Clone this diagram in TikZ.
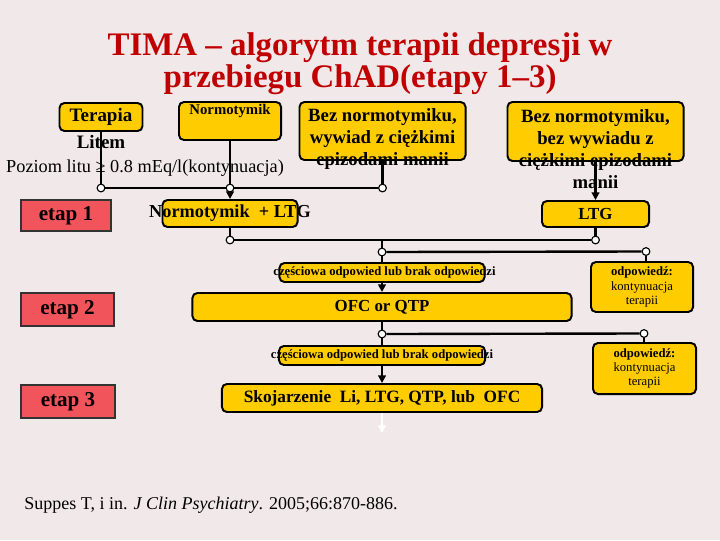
\documentclass[tikz,border=0pt]{standalone}
\usepackage{fontspec}
\setmainfont{Liberation Serif}
\usetikzlibrary{arrows.meta,positioning}
\definecolor{pagebg}{HTML}{F1E8EA}
\definecolor{titlered}{HTML}{C00000}
\definecolor{boxyellow}{HTML}{FFCC00}
\definecolor{etapred}{HTML}{F2545B}
\tikzset{
  ybox/.style={draw=black,fill=boxyellow,rounded corners=3.5pt,
               line width=1.4pt,inner sep=0pt},
  etapcard/.style={draw=black!80,fill=etapred,line width=0.9pt,inner sep=0pt,
                   font=\bfseries\fontsize{15}{18}\selectfont},
  joint/.style={circle,draw=black,fill=white,line width=0.8pt,
                inner sep=0pt,minimum size=5.5pt},
  link/.style={line width=1.7pt,black},
  arrowdark/.style={link,-{Triangle[length=5.5pt,width=5.5pt]}},
  bodybold/.style={font=\bfseries\fontsize{13.3}{15.6}\selectfont,align=center},
  tinybold/.style={font=\bfseries\fontsize{9}{10.5}\selectfont},
}

\begin{document}
\begin{tikzpicture}[x=0.025cm,y=-0.025cm]
  \fill[pagebg](0,0)rectangle(720,540);
  \useasboundingbox(0,0)rectangle(720,540);

  % title
  \node[align=center,text=titlered,font=\bfseries\fontsize{23.4}{22.5}\selectfont]
    (title)at(360,64){TIMA – algorytm terapii depresji w\\przebiegu ChAD(etapy 1–3)};

  % etap 1: starting points
  \node[ybox,minimum width=2.075cm,minimum height=0.7cm](terapia)at(101,117){};
  \node[font=\bfseries\fontsize{13.5}{16}\selectfont](terapiaT)at(101,117){Terapia};
  \node[font=\bfseries\fontsize{13.5}{16}\selectfont](litem)at(101,142){Litem};
  \node[font=\fontsize{13}{15}\selectfont](poziom)at(145,168)
    {Poziom litu ≥ 0.8 mEq/l(kontynuacja)};
  \node[ybox,minimum width=2.55cm,minimum height=0.95cm](normo)at(230,121){};
  \node[font=\bfseries\fontsize{10.5}{12}\selectfont](normoT)at(230,111){Normotymik};
  \node[ybox,minimum width=4.15cm,minimum height=1.45cm](bezA)at(382.5,131){};
  \node[bodybold](bezAT)at(382.5,139)
    {Bez normotymiku,\\wywiad z ciężkimi\\epizodami manii};
  \node[ybox,minimum width=4.4cm,minimum height=1.475cm](bezB)at(595.5,131.5){};
  \node[bodybold](bezBT)at(595.5,149.5)
    {Bez normotymiku,\\bez wywiadu z\\ciężkimi epizodami\\manii};

  \node[etapcard,minimum width=2.25cm,minimum height=0.775cm](etap1)at(66,215.5){etap 1};
  \node[ybox,minimum width=3.375cm,minimum height=0.675cm](normLTG)at(230,213.5){};
  \node[font=\bfseries\fontsize{13}{15}\selectfont](normLTGT)at(230,213.5)
    {Normotymik\ \ + LTG};
  \node[ybox,minimum width=2.675cm,minimum height=0.65cm,
        font=\bfseries\fontsize{12}{14}\selectfont](ltg)at(595.5,214){LTG};

  % etap 2
  \node[ybox,minimum width=5.125cm,minimum height=0.475cm](czesc1)at(382,272.5){};
  \node[tinybold](czesc1T)at(384.5,272.5){częściowa odpowied lub brak odpowiedzi};
  \node[etapcard,minimum width=2.325cm,minimum height=0.825cm](etap2)at(67.5,309.5){etap 2};
  \node[ybox,minimum width=9.475cm,minimum height=0.7cm,
        font=\bfseries\fontsize{12}{14}\selectfont](ofc)at(382,307){OFC or QTP};
  \node[ybox,minimum width=2.55cm,minimum height=1.25cm,align=center,
        font=\fontsize{9}{10.2}\selectfont](odp1)at(642,287)
    {\textbf{odpowiedź:}\\kontynuacja\\terapii};

  % etap 3
  \node[ybox,minimum width=5.15cm,minimum height=0.475cm](czesc2)at(382,355.5){};
  \node[tinybold](czesc2T)at(382,355.5){częściowa odpowied lub brak odpowiedzi};
  \node[etapcard,minimum width=2.35cm,minimum height=0.825cm](etap3)at(68,401.5){etap 3};
  \node[ybox,minimum width=8cm,minimum height=0.7cm,
        font=\bfseries\fontsize{12.3}{14}\selectfont](skoj)at(382,398)
    {Skojarzenie\ \ Li, LTG, QTP, lub\ \ OFC};
  \node[ybox,minimum width=2.575cm,minimum height=1.275cm,align=center,
        font=\fontsize{9}{10.2}\selectfont](odp2)at(644.5,368.5)
    {\textbf{odpowiedź:}\\kontynuacja\\terapii};

  % joints
  \node[joint](j1)at(101,188){};
  \node[joint](j2)at(230,188){};
  \node[joint](j3)at(382.5,188){};
  \node[joint](j4)at(230,240){};
  \node[joint](j5)at(595.5,240){};
  \node[joint](j6)at(382,252){};
  \node[joint](j7)at(646,251.5){};
  \node[joint](j8)at(382,334){};
  \node[joint](j9)at(644,333.5){};
  \coordinate(tap)at(382,240);
  \coordinate(skojend)at(382,433);

  % connectors
  \draw[link](terapia.south)--(j1.north);
  \draw[link](normo.south)--(j2.north);
  \draw[link](bezA.south)--(j3.north);
  \draw[link](j1.east)--(j2.west);
  \draw[link](j2.east)--(j3.west);
  \draw[arrowdark](j2.south)--(normLTG.north);
  \draw[arrowdark](bezB.south)--(ltg.north);
  \draw[link](normLTG.south)--(j4.north);
  \draw[link](ltg.south)--(j5.north);
  \draw[link](j4.east)--(j5.west);
  \draw[link](tap)--(j6.north);
  \draw[link](j6.east)--(j7.west);
  \draw[link](j7.south)--(j7|-odp1.north);
  \draw[link](j6.south)--(czesc1.north);
  \draw[arrowdark](czesc1.south)--(ofc.north);
  \draw[link](ofc.south)--(j8.north);
  \draw[link](j8.east)--(j9.west);
  \draw[link](j9.south)--(j9|-odp2.north);
  \draw[link](j8.south)--(czesc2.north);
  \draw[arrowdark](czesc2.south)--(skoj.north);
  \draw[link,white,-{Triangle[length=5.5pt,width=5.5pt]}](skoj.south)--(skojend);

  % reference
  \node[font=\fontsize{12.8}{15}\selectfont](cite)at(211,505)
    {Suppes T, i in. \textit{J Clin Psychiatry}. 2005;66:870-886.};
\end{tikzpicture}
\end{document}
